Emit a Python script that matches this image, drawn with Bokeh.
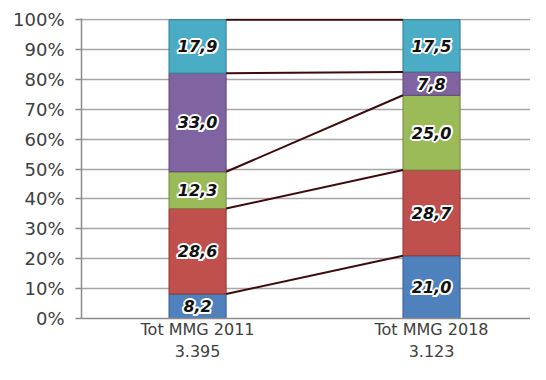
import numpy as np
from bokeh.plotting import figure
from bokeh.models import ColumnDataSource, Range1d, FixedTicker
from bokeh.core.properties import value
from bokeh.embed import file_html
from bokeh.resources import INLINE

categories = ["Tot MMG 2011", "Tot MMG 2018"]
totals = ["3.395", "3.123"]
seg1 = [8.2, 21.0]
seg2 = [28.6, 28.7]
seg3 = [12.3, 25.0]
seg4 = [33.0, 7.8]
seg5 = [17.9, 17.5]
y_ticks = [0, 10, 20, 30, 40, 50, 60, 70, 80, 90, 100]

series = [seg1, seg2, seg3, seg4, seg5]
fills = ["#4F81BD", "#C0504D", "#9BBB59", "#8064A2", "#4BACC6"]
borders = ["#385D8A", "#8C3836", "#71893F", "#5C4776", "#357D91"]
bar_w = 0.244

p = figure(width=530, height=364, output_backend="svg", toolbar_location=None,
           x_range=Range1d(-0.496, 1.423), y_range=Range1d(0, 100.4),
           min_border_left=81, min_border_right=0, min_border_top=18, min_border_bottom=39)
p.outline_line_color = None
p.background_fill_color = "white"
p.border_fill_color = "white"

xs = np.arange(len(categories))
vals = np.array(series)
tops = np.cumsum(vals, axis=0)
bottoms = tops - vals

for i in range(len(series)):
    src = ColumnDataSource(dict(x=xs, top=tops[i], bottom=bottoms[i]))
    p.vbar(x="x", top="top", bottom="bottom", width=bar_w, source=src,
           fill_color=fills[i], line_color=borders[i], line_width=1)

seg_src = ColumnDataSource(dict(x0=[xs[0] + bar_w / 2] * len(series),
                                x1=[xs[1] - bar_w / 2] * len(series),
                                y0=tops[:, 0], y1=tops[:, 1]))
p.segment(x0="x0", y0="y0", x1="x1", y1="y1", source=seg_src,
          line_color="#3f0a0a", line_width=2)

lx, ly, lt = [], [], []
for i in range(len(series)):
    for j in range(len(categories)):
        lx.append(xs[j])
        ly.append((tops[i, j] + bottoms[i, j]) / 2)
        lt.append(f"{vals[i, j]:.1f}".replace(".", ","))
lab_src = ColumnDataSource(dict(x=lx, y=ly, t=lt))
font_kw = dict(text_align="center", text_baseline="middle", text_font=value("DejaVu Sans"),
               text_font_style="bold italic", text_font_size="16px")
for dx, dy in [(-2, 0), (2, 0), (0, -2), (0, 2), (-1.5, -1.5), (1.5, -1.5), (-1.5, 1.5), (1.5, 1.5)]:
    p.text(x="x", y="y", text="t", source=lab_src, x_offset=dx, y_offset=dy,
           text_color="white", **font_kw)
p.text(x="x", y="y", text="t", source=lab_src, text_color="#111111", **font_kw)

p.xgrid.grid_line_color = None
p.ygrid.grid_line_color = "#a6a6a6"
p.ygrid.grid_line_width = 1.5
p.yaxis.ticker = FixedTicker(ticks=y_ticks)
p.yaxis.major_label_overrides = {t: f"{t}%" for t in y_ticks}
p.yaxis.major_label_text_font = "DejaVu Sans"
p.yaxis.major_label_text_font_size = "18px"
p.yaxis.major_label_text_color = "#404040"
p.yaxis.major_tick_out = 6
p.yaxis.major_tick_in = 0
p.yaxis.minor_tick_line_color = None
p.yaxis.major_tick_line_color = "#8c8c8c"
p.yaxis.axis_line_color = "#8c8c8c"
p.yaxis.axis_line_width = 1.5
p.yaxis.major_tick_line_width = 1.5
p.yaxis.major_label_standoff = 11

p.xaxis.ticker = FixedTicker(ticks=list(xs))
p.xaxis.major_label_overrides = {int(x): f"{c}\n{t}" for x, c, t in zip(xs, categories, totals)}
p.xaxis.major_label_text_font = "DejaVu Sans"
p.xaxis.major_label_text_font_size = "16px"
p.xaxis.major_label_text_color = "#404040"
p.xaxis.major_tick_out = 0
p.xaxis.major_tick_in = 0
p.xaxis.minor_tick_line_color = None
p.xaxis.axis_line_color = "#8c8c8c"
p.xaxis.axis_line_width = 1.5
p.xaxis.major_label_standoff = 1

open("out.html", "w").write(file_html(p, INLINE))
